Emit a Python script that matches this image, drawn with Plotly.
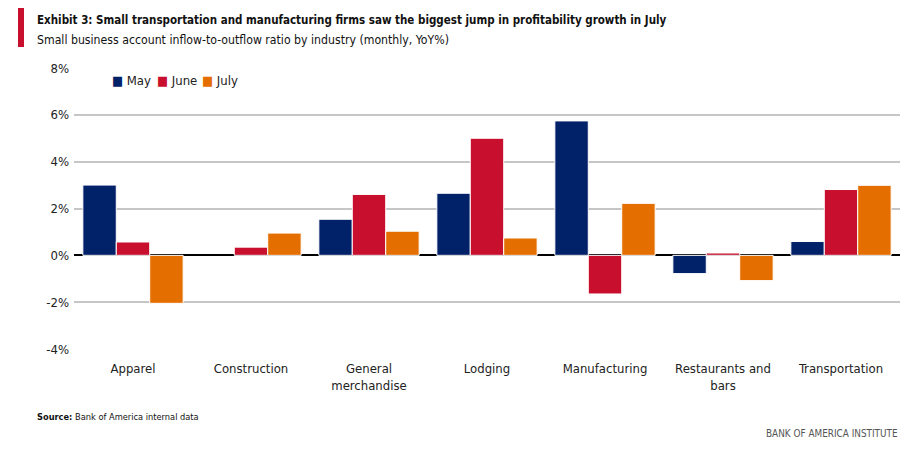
import plotly.graph_objects as go

categories = ["Apparel", "Construction", "General<br>merchandise", "Lodging",
              "Manufacturing", "Restaurants and<br>bars", "Transportation"]
series_names = ["May", "June", "July"]
may = [3.0, None, 1.54, 2.65, 5.74, -0.78, 0.59]
june = [0.57, 0.35, 2.6, 5.0, -1.65, 0.1, 2.81]
july = [-2.05, 0.95, 1.03, 0.74, 2.22, -1.08, 2.99]
y_ticks = [-4, -2, 0, 2, 4, 6, 8]
y_tick_labels = ["-4%", "-2%", "0%", "2%", "4%", "6%", "8%"]

COLORS = ["#012169", "#C8102E", "#E56E00"]
W, H = 922, 453
L, R, T, B = 74, 900, 68, 349
FONT = "DejaVu Sans Condensed, Liberation Sans Narrow, Roboto Condensed, Arial Narrow, sans-serif"


def px(x):
    return (x - L) / (R - L)


def py(y):
    return (B - y) / (B - T)


fig = go.Figure()
for name, vals, col in zip(series_names, [may, june, july], COLORS):
    fig.add_trace(go.Bar(x=categories, y=vals, name=name, marker_color=col,
                         marker_line=dict(color="white", width=1), showlegend=False))

fig.update_layout(
    width=W, height=H,
    margin=dict(l=L, r=W - R, t=T, b=H - B),
    paper_bgcolor="white", plot_bgcolor="white",
    barmode="group", bargap=0.15, bargroupgap=0,
    font=dict(family=FONT, size=13, color="#222"),
    showlegend=False,
    xaxis=dict(showgrid=False, showline=False, ticks="", tickfont=dict(size=13, color="#222"),
               ticklabelstandoff=10),
    yaxis=dict(range=[-4, 8], tickvals=y_ticks, ticktext=y_tick_labels,
               showgrid=True, gridcolor="#c6c6c6", gridwidth=1.5,
               zeroline=True, zerolinecolor="#000", zerolinewidth=1.5,
               ticks="", tickfont=dict(size=13, color="#222"), ticklabelstandoff=4),
)

# legend (manual, tight spacing as in the reference)
legend_x = [110, 155, 200]
for name, col, x0 in zip(series_names, COLORS, legend_x):
    fig.add_annotation(xref="paper", yref="paper", x=px(x0), y=py(81), xanchor="left", yanchor="middle",
                       text=f"<span style='color:{col}'>■</span> {name}", showarrow=False,
                       font=dict(size=13, color="#222", family=FONT))

fig.add_shape(type="rect", xref="paper", yref="paper",
              x0=px(18), x1=px(24), y0=py(47), y1=py(8),
              fillcolor="#C8102E", line_width=0)

fig.add_annotation(xref="paper", yref="paper", x=px(35), y=py(20), xanchor="left", yanchor="middle",
                   text="<b>Exhibit 3: Small transportation and manufacturing firms saw the biggest jump in profitability growth in July</b>",
                   showarrow=False, font=dict(size=11.5, color="#111", family=FONT))
fig.add_annotation(xref="paper", yref="paper", x=px(35), y=py(40), xanchor="left", yanchor="middle",
                   text="Small business account inflow-to-outflow ratio by industry (monthly, YoY%)",
                   showarrow=False, font=dict(size=12.2, color="#111", family=FONT))
fig.add_annotation(xref="paper", yref="paper", x=px(35), y=py(416), xanchor="left", yanchor="middle",
                   text="<b>Source:</b> Bank of America internal data",
                   showarrow=False, font=dict(size=9.2, color="#111", family=FONT))
fig.add_annotation(xref="paper", yref="paper", x=px(900), y=py(433), xanchor="right", yanchor="middle",
                   text="BANK OF AMERICA INSTITUTE",
                   showarrow=False, font=dict(size=9.9, color="#555", family=FONT))

fig.write_html("out.html", config={"displayModeBar": False},
               post_script="document.body.style.margin='0';document.body.style.overflow='hidden';")
